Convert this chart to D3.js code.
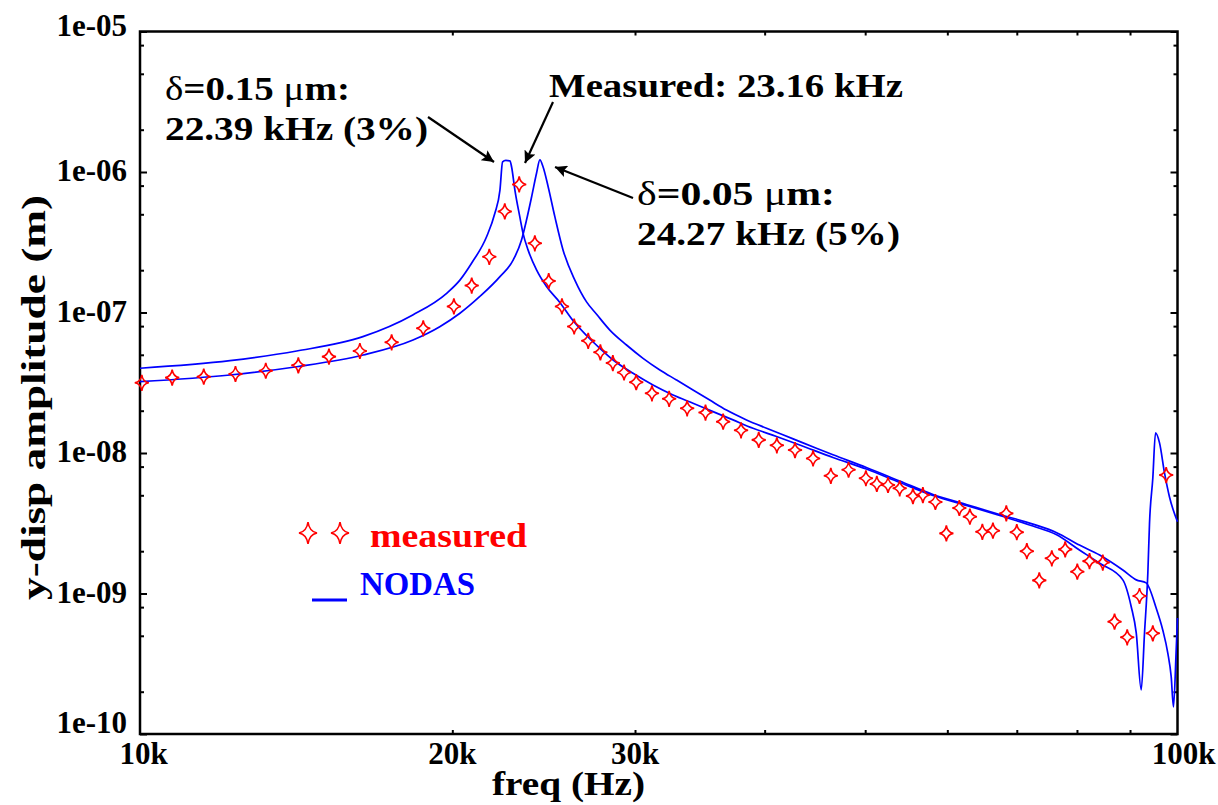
<!DOCTYPE html>
<html>
<head>
<meta charset="utf-8">
<script src="https://cdn.jsdelivr.net/npm/d3@7"></script>
<style>
  body { margin: 0; background: #fff; }
  svg { display: block; }
  text { font-family: "Liberation Serif", "Times New Roman", serif; font-weight: bold; }
</style>
</head>
<body>
<div id="chart"></div>
<script>
// measured points (frequency in kHz, amplitude in m)
const measFreq = [10.04, 10.74, 11.52, 12.36, 13.22, 14.21, 15.21, 16.29, 17.48, 18.75,
  20.07, 20.88, 21.71, 22.47, 23.20, 24.02, 24.77, 25.51, 26.21, 27.04,
  27.78, 28.56, 29.28, 30.08, 31.15, 32.36, 33.68, 35.08, 36.48, 37.96,
  39.48, 41.10, 42.79, 44.54, 46.33, 48.19, 50.08, 51.31, 52.60, 53.98,
  55.59, 56.83, 58.43, 59.87, 61.62, 63.08, 64.85, 66.39, 68.39, 70.00,
  71.58, 73.58, 75.66, 77.94, 80.06, 82.26, 84.72, 86.96, 89.44, 91.92,
  94.67, 97.52];
const measAmp = [3.16e-8, 3.44e-8, 3.49e-8, 3.65e-8, 3.85e-8, 4.21e-8, 4.85e-8, 5.32e-8, 6.14e-8, 7.72e-8,
  1.104e-7, 1.556e-7, 2.49e-7, 5.24e-7, 8.15e-7, 3.11e-7, 1.675e-7, 1.104e-7, 7.95e-8, 6.29e-8,
  5.21e-8, 4.37e-8, 3.74e-8, 3.19e-8, 2.66e-8, 2.43e-8, 2.08e-8, 1.94e-8, 1.67e-8, 1.45e-8,
  1.24e-8, 1.135e-8, 1.05e-8, 9.14e-9, 6.88e-9, 7.6e-9, 6.61e-9, 6.02e-9, 5.92e-9, 5.61e-9,
  4.94e-9, 5.02e-9, 4.48e-9, 2.68e-9, 4.06e-9, 3.52e-9, 2.75e-9, 2.80e-9, 3.72e-9, 2.73e-9,
  2.0e-9, 1.24e-9, 1.78e-9, 2.06e-9, 1.43e-9, 1.70e-9, 1.66e-9, 6.3e-10, 4.88e-10, 9.6e-10,
  5.21e-10, 6.97e-9];

// NODAS, delta = 0.15 um (peak 22.39 kHz)
const nodasAFreq = [10.00, 12.21, 14.16, 16.40, 18.32, 19.75, 20.34, 20.88, 21.58, 21.98,
  22.23, 22.36, 22.52, 22.73, 22.81, 22.98, 23.23, 23.40, 23.66, 24.11,
  24.65, 25.39, 26.15, 26.94, 27.75, 28.58, 29.87, 31.22, 32.64, 34.12,
  35.67, 37.29, 38.98, 41.07, 43.24, 46.55, 50.13, 53.98, 58.12, 62.58,
  67.38, 72.55, 76.39, 80.44, 84.13, 88.57, 90.24, 91.25, 92.26, 92.94,
  93.63, 93.98, 94.67, 95.24, 96.09, 97.16, 98.24, 100.0];
const nodasAAmp = [4.01e-8, 4.54e-8, 5.32e-8, 6.73e-8, 9.60e-8, 1.37e-7, 1.70e-7, 2.25e-7, 3.46e-7, 5.08e-7,
  7.44e-7, 1.18e-6, 1.21e-6, 1.20e-6, 1.09e-6, 7.44e-7, 4.81e-7, 3.66e-7, 2.79e-7, 2.01e-7,
  1.53e-7, 1.18e-7, 8.73e-8, 6.86e-8, 5.56e-8, 4.59e-8, 3.69e-8, 3.05e-8, 2.59e-8, 2.26e-8,
  1.97e-8, 1.72e-8, 1.50e-8, 1.31e-8, 1.14e-8, 9.29e-9, 7.69e-9, 6.17e-9, 4.98e-9, 4.23e-9,
  3.59e-9, 3.02e-9, 2.63e-9, 2.04e-9, 1.64e-9, 1.25e-9, 8.05e-10, 5.24e-10, 2.06e-10, 5.24e-10,
  1.40e-9, 3.18e-9, 6.64e-9, 1.39e-8, 1.18e-8, 7.21e-9, 4.86e-9, 3.24e-9];

// NODAS, delta = 0.05 um (peak 24.27 kHz)
const nodasBFreq = [10.00, 12.21, 14.16, 16.41, 18.33, 19.45, 20.34, 21.26, 22.23, 22.89,
  23.32, 23.58, 23.85, 24.11, 24.29, 24.46, 24.74, 25.11, 25.57, 26.25,
  26.94, 27.56, 28.37, 29.44, 30.54, 31.70, 32.89, 34.12, 35.41, 36.75,
  38.42, 40.17, 42.61, 44.87, 46.55, 50.13, 53.98, 58.12, 62.58, 67.38,
  72.55, 76.39, 80.44, 84.13, 88.57, 91.25, 93.28, 95.37, 96.78, 97.87,
  98.61, 99.11, 99.71, 100.0];
const nodasBAmp = [3.22e-8, 3.59e-8, 4.11e-8, 4.98e-8, 6.37e-8, 7.92e-8, 9.87e-8, 1.30e-7, 1.80e-7, 2.36e-7,
  3.28e-7, 4.55e-7, 6.67e-7, 9.79e-7, 1.22e-6, 1.09e-6, 7.86e-7, 4.81e-7, 2.79e-7, 1.70e-7,
  1.19e-7, 9.68e-8, 7.50e-8, 5.87e-8, 4.72e-8, 3.90e-8, 3.31e-8, 2.81e-8, 2.38e-8, 2.02e-8,
  1.72e-8, 1.50e-8, 1.26e-8, 1.08e-8, 9.71e-9, 7.88e-9, 6.32e-9, 5.07e-9, 4.30e-9, 3.65e-9,
  3.12e-9, 2.72e-9, 2.21e-9, 1.88e-9, 1.47e-9, 1.25e-9, 1.19e-9, 7.88e-10, 5.50e-10, 3.77e-10,
  2.56e-10, 1.56e-10, 3.96e-10, 6.69e-10];

// axis ticks
const xTickValues = [10000, 20000, 30000, 100000];
const xTickLabels = ["10k", "20k", "30k", "100k"];
const xMinorTicks = [20000, 30000, 40000, 50000, 60000, 70000, 80000, 90000];
const yTickValues = [1e-5, 1e-6, 1e-7, 1e-8, 1e-9, 1e-10];
const yTickLabels = ["1e-05", "1e-06", "1e-07", "1e-08", "1e-09", "1e-10"];
const yMinorTicks = [2e-10, 5e-10, 8e-10, 2e-9, 5e-9, 8e-9, 2e-8, 5e-8, 8e-8,
  2e-7, 5e-7, 8e-7, 2e-6, 5e-6, 8e-6];

const width = 1218, height = 805;
const mLeft = 140, mRight = 1177.5, mTop = 31.5, mBottom = 734;

const svg = d3.select("#chart").append("svg")
    .attr("width", width)
    .attr("height", height);

const x = d3.scaleLog().domain([1e4, 1e5]).range([mLeft, mRight]);
const y = d3.scaleLog().domain([1e-10, 1e-5]).range([mBottom, mTop]);

// ticks (all pointing inward)
function tickGroup(axis, tx, ty) {
    const g = svg.append("g")
        .attr("transform", `translate(${tx},${ty})`)
        .call(axis);
    g.select(".domain").remove();
    g.selectAll("line").attr("stroke", "black").attr("stroke-width", 2);
    return g;
}
tickGroup(d3.axisLeft(y).tickValues(yMinorTicks).tickSize(-4).tickFormat(""), mLeft, 0);
tickGroup(d3.axisLeft(y).tickValues(yTickValues).tickSize(-7).tickFormat(""), mLeft, 0);
tickGroup(d3.axisRight(y).tickValues(yMinorTicks).tickSize(-4).tickFormat(""), mRight, 0);
tickGroup(d3.axisRight(y).tickValues(yTickValues).tickSize(-7).tickFormat(""), mRight, 0);
tickGroup(d3.axisBottom(x).tickValues(xMinorTicks).tickSize(-4).tickFormat(""), 0, mBottom);
tickGroup(d3.axisTop(x).tickValues(xMinorTicks).tickSize(-4).tickFormat(""), 0, mTop);

// frame
svg.append("rect")
    .attr("x", mLeft).attr("y", mTop)
    .attr("width", mRight - mLeft).attr("height", mBottom - mTop)
    .attr("fill", "none")
    .attr("stroke", "black")
    .attr("stroke-width", 2.5);

// tick labels
svg.selectAll(".ylab")
    .data(yTickValues)
    .enter().append("text")
    .attr("class", "ylab")
    .attr("x", 127)
    .attr("y", (d, i) => y(d) + (i === 0 ? 4.5 : i === yTickValues.length - 1 ? -1 : 9))
    .attr("text-anchor", "end")
    .attr("font-size", 31)
    .text((d, i) => yTickLabels[i]);

svg.selectAll(".xlab")
    .data(xTickValues)
    .enter().append("text")
    .attr("class", "xlab")
    .attr("x", (d, i) => x(d) + (i === 0 ? 3.5 : i === xTickValues.length - 1 ? 6 : 0))
    .attr("y", 764)
    .attr("text-anchor", "middle")
    .attr("font-size", 31)
    .text((d, i) => xTickLabels[i]);

// axis titles
svg.append("text")
    .attr("x", 492).attr("y", 795)
    .attr("font-size", 34)
    .attr("textLength", 153).attr("lengthAdjust", "spacingAndGlyphs")
    .text("freq (Hz)");

svg.append("text")
    .attr("transform", "translate(45,600) rotate(-90)")
    .attr("font-size", 34)
    .attr("textLength", 405).attr("lengthAdjust", "spacingAndGlyphs")
    .text("y-disp amplitude  (m)");

// NODAS curves
const line = d3.line()
    .x(d => x(d[0] * 1000))
    .y(d => y(d[1]))
    .curve(d3.curveMonotoneX);
[[nodasAFreq, nodasAAmp], [nodasBFreq, nodasBAmp]].forEach(([f, a]) => {
    svg.append("path")
        .datum(f.map((v, i) => [v, a[i]]))
        .attr("d", line)
        .attr("fill", "none")
        .attr("stroke", "#0000ff")
        .attr("stroke-width", 1.7)
        .attr("stroke-linejoin", "round");
});

// four point star marker
function star(rx, ry) {
    const kx = rx * 0.14, ky = ry * 0.14;
    return `M0,${-ry} Q${kx},${-ky} ${rx},0 Q${kx},${ky} 0,${ry} Q${-kx},${ky} ${-rx},0 Q${-kx},${-ky} 0,${-ry}Z`;
}

svg.selectAll(".meas")
    .data(measFreq.map((f, i) => [f, measAmp[i]]))
    .enter().append("path")
    .attr("class", "meas")
    .attr("transform", d => `translate(${x(d[0] * 1000)},${y(d[1])})`)
    .attr("d", star(7, 8))
    .attr("fill", "none")
    .attr("stroke", "#ff0000")
    .attr("stroke-width", 1.6);

// annotations
const defs = svg.append("defs");
defs.append("marker")
    .attr("id", "ah")
    .attr("viewBox", "0 0 10 10")
    .attr("refX", 10).attr("refY", 5)
    .attr("markerWidth", 22).attr("markerHeight", 12)
    .attr("markerUnits", "userSpaceOnUse")
    .attr("orient", "auto")
    .append("path")
    .attr("d", "M0,0 L10,5 L0,10 L2,5 Z")
    .attr("fill", "black");

const arrows = [[428, 117, 494, 162], [553, 102, 525, 163], [633, 198, 555, 167]];
arrows.forEach(a => {
    svg.append("line")
        .attr("x1", a[0]).attr("y1", a[1])
        .attr("x2", a[2]).attr("y2", a[3])
        .attr("stroke", "black")
        .attr("stroke-width", 2.2)
        .attr("marker-end", "url(#ah)");
});

function annot(xp, yp, len, parts) {
    const t = svg.append("text")
        .attr("x", xp).attr("y", yp)
        .attr("font-size", 34)
        .attr("textLength", len).attr("lengthAdjust", "spacingAndGlyphs");
    parts.forEach(p => {
        t.append("tspan")
            .attr("font-weight", p[1] ? "normal" : "bold")
            .text(p[0]);
    });
}
annot(165, 100, 185, [["δ", true], ["=0.15 ", false], ["μ", true], ["m:", false]]);
annot(165, 140, 263, [["22.39 kHz (3%)", false]]);
annot(549, 97, 354, [["Measured: 23.16 kHz", false]]);
annot(637, 205, 198, [["δ", true], ["=0.05 ", false], ["μ", true], ["m:", false]]);
annot(637, 245, 263, [["24.27 kHz (5%)", false]]);

// legend
[308, 340].forEach(cx => {
    svg.append("path")
        .attr("transform", `translate(${cx},533)`)
        .attr("d", star(9, 11))
        .attr("fill", "none")
        .attr("stroke", "#ff0000")
        .attr("stroke-width", 1.6);
});
svg.append("text")
    .attr("x", 370).attr("y", 547)
    .attr("font-size", 34)
    .attr("fill", "#ff0000")
    .attr("textLength", 157).attr("lengthAdjust", "spacingAndGlyphs")
    .text("measured");

svg.append("line")
    .attr("x1", 312).attr("x2", 347)
    .attr("y1", 600).attr("y2", 600)
    .attr("stroke", "#0000ff")
    .attr("stroke-width", 3);
svg.append("text")
    .attr("x", 360).attr("y", 595)
    .attr("font-size", 34)
    .attr("fill", "#0000ff")
    .attr("textLength", 115).attr("lengthAdjust", "spacingAndGlyphs")
    .text("NODAS");
</script>
</body>
</html>
